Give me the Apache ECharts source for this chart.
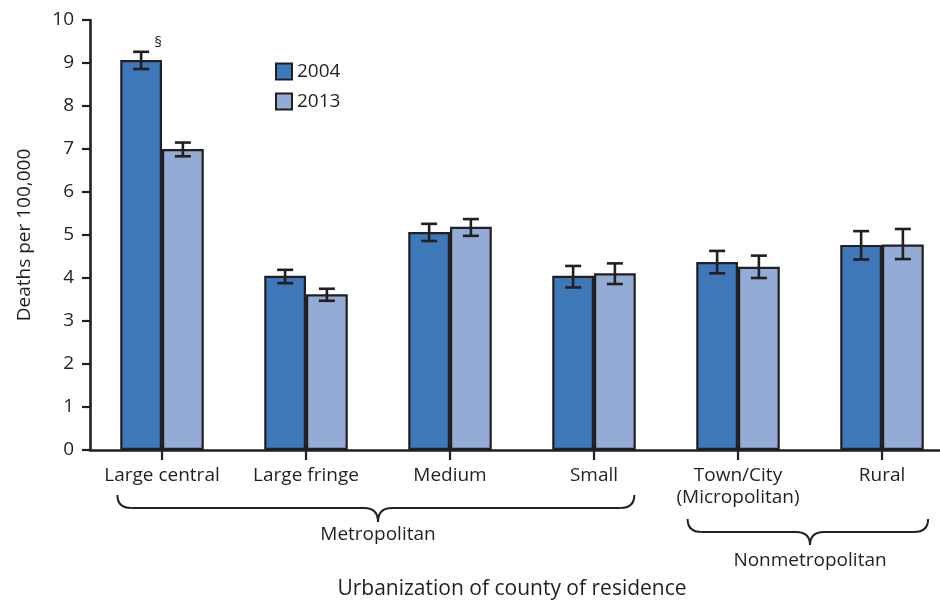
<!DOCTYPE html>
<html>
<head>
<meta charset="utf-8">
<script src="https://cdn.jsdelivr.net/npm/echarts@6/dist/echarts.min.js"></script>
<style>
html,body{margin:0;padding:0;background:#fff;overflow:hidden;width:940px;height:602px;}
#main{width:954px;height:602px;}
</style>
</head>
<body>
<div id="main"></div>
<script>
const categories = ['Large central', 'Large fringe', 'Medium', 'Small', 'Town/City\n(Micropolitan)', 'Rural'];
const yTicks = [0, 1, 2, 3, 4, 5, 6, 7, 8, 9, 10];
const seriesNames = ['2004', '2013'];
const values2004 = [9.07, 4.05, 5.07, 4.05, 4.37, 4.77];
const low2004    = [8.86, 3.88, 4.86, 3.78, 4.11, 4.43];
const high2004   = [9.26, 4.19, 5.26, 4.28, 4.63, 5.09];
const values2013 = [7.00, 3.62, 5.19, 4.11, 4.26, 4.78];
const low2013    = [6.83, 3.47, 4.98, 3.86, 4.00, 4.44];
const high2013   = [7.15, 3.75, 5.37, 4.34, 4.52, 5.14];
const notes2004  = ['§', '', '', '', '', ''];
const groups = [
  { name: 'Metropolitan', from: 0, to: 3 },
  { name: 'Nonmetropolitan', from: 4, to: 5 }
];

const FONT = '"Open Sans", "Liberation Sans", sans-serif';
const INK = '#231f20';
const C2004 = '#3e78b9';
const C2013 = '#93acd5';
const CAT_GAP = 0.42;

const chart = echarts.init(document.getElementById('main'), null, { renderer: 'canvas' });

const errData = [];
categories.forEach((c, i) => {
  errData.push([i, low2004[i], high2004[i], 0, notes2004[i]]);
  errData.push([i, low2013[i], high2013[i], 1, '']);
});

function renderErr(params, api) {
  const i = api.value(0);
  const lo = api.coord([i, api.value(1)]);
  const hi = api.coord([i, api.value(2)]);
  const band = api.size([1, 0])[0];
  const bw = band * (1 - CAT_GAP) / 2;
  const s = api.value(3);
  const x = lo[0] + (s === 0 ? -bw / 2 : bw / 2);
  const cap = 8;
  const st = { stroke: INK, lineWidth: 2.6 };
  const children = [
    { type: 'line', shape: { x1: x, y1: lo[1], x2: x, y2: hi[1] }, style: st },
    { type: 'line', shape: { x1: x - cap, y1: lo[1], x2: x + cap, y2: lo[1] }, style: st },
    { type: 'line', shape: { x1: x - cap, y1: hi[1], x2: x + cap, y2: hi[1] }, style: st }
  ];
  const note = errData[params.dataIndex][4];
  if (note) {
    children.push({ type: 'text', x: x + 17, y: hi[1] - 9,
      style: { text: note, fill: INK, font: '15px ' + FONT, align: 'center', verticalAlign: 'middle' } });
  }
  return { type: 'group', children };
}

const option = {
  animation: false,
  backgroundColor: '#fff',
  textStyle: { fontFamily: FONT, color: INK },
  grid: { left: 90, right: 0, top: 20, bottom: 152, containLabel: false },
  legend: {
    left: 275, top: 62, orient: 'vertical', itemGap: 11, padding: 0,
    itemWidth: 16, itemHeight: 16, icon: 'rect',
    textStyle: { fontSize: 19, color: INK, fontFamily: FONT },
    data: seriesNames
  },
  xAxis: {
    type: 'category',
    data: categories,
    axisLine: { lineStyle: { color: INK, width: 2.6 } },
    axisTick: { show: true, alignWithLabel: true, length: 10, lineStyle: { color: INK, width: 2.2 } },
    axisLabel: { fontSize: 19, color: INK, margin: 15, lineHeight: 22, fontFamily: FONT, interval: 0 },
    splitLine: { show: false }
  },
  yAxis: {
    type: 'value', min: yTicks[0], max: yTicks[yTicks.length - 1], interval: 1,
    name: 'Deaths per 100,000', nameLocation: 'middle', nameGap: 56,
    nameTextStyle: { fontSize: 19, color: INK, fontFamily: FONT },
    axisLine: { show: true, lineStyle: { color: INK, width: 2.6 } },
    axisTick: { show: true, length: 8, lineStyle: { color: INK, width: 2.2 } },
    axisLabel: { fontSize: 19, color: INK, margin: 16, fontFamily: FONT },
    splitLine: { show: false }
  },
  series: [
    { name: seriesNames[0], type: 'bar', data: values2004, barGap: '0%', barCategoryGap: (CAT_GAP * 100) + '%',
      itemStyle: { color: C2004, borderColor: INK, borderWidth: 2.2 } },
    { name: seriesNames[1], type: 'bar', data: values2013, barGap: '0%', barCategoryGap: (CAT_GAP * 100) + '%',
      itemStyle: { color: C2013, borderColor: INK, borderWidth: 2.2 } },
    { type: 'custom', renderItem: renderErr, data: errData, z: 10, silent: true,
      encode: { x: 0, y: [1, 2] } }
  ]
};
chart.setOption(option);

// group braces and axis title
const band = chart.convertToPixel({ xAxisIndex: 0 }, 1) - chart.convertToPixel({ xAxisIndex: 0 }, 0);
function braceParts(x1, x2, xm, yTop, yMid, yTip) {
  const r = 14;
  const st = { fill: null, stroke: INK, lineWidth: 2 };
  const q = (a, b, c, d, e, f) => ({ type: 'bezierCurve', shape: { x1: a, y1: b, cpx1: c, cpy1: d, x2: e, y2: f }, style: st });
  const l = (a, b, c, d) => ({ type: 'line', shape: { x1: a, y1: b, x2: c, y2: d }, style: st });
  return [
    q(x1, yTop, x1, yMid, x1 + r, yMid),
    l(x1 + r, yMid, xm - r, yMid),
    q(xm - r, yMid, xm, yMid, xm, yTip),
    q(xm, yTip, xm, yMid, xm + r, yMid),
    l(xm + r, yMid, x2 - r, yMid),
    q(x2 - r, yMid, x2, yMid, x2, yTop)
  ];
}
const braceCfg = [
  { lo: -0.31, hi: 0.28, yTop: 495, yMid: 508, yTip: 522, ty: 535 },
  { lo: -0.35, hi: 0.32, yTop: 519, yMid: 532, yTip: 545, ty: 561 }
];
const graphics = [];
groups.forEach((g, k) => {
  const cfg = braceCfg[k];
  const c1 = chart.convertToPixel({ xAxisIndex: 0 }, g.from);
  const c2 = chart.convertToPixel({ xAxisIndex: 0 }, g.to);
  const x1 = c1 + cfg.lo * band;
  const x2 = c2 + cfg.hi * band;
  const xm = (c1 + c2) / 2;
  braceParts(x1, x2, xm, cfg.yTop, cfg.yMid, cfg.yTip).forEach(p => graphics.push(p));
  graphics.push({ type: 'text', x: xm, y: cfg.ty,
    style: { text: g.name, fill: INK, font: '19px ' + FONT, align: 'center', verticalAlign: 'middle' } });
});
graphics.push({ type: 'text', x: 512, y: 589,
  style: { text: 'Urbanization of county of residence', fill: INK, font: '21px ' + FONT, align: 'center', verticalAlign: 'middle' } });
chart.setOption({ graphic: graphics });
</script>
</body>
</html>
